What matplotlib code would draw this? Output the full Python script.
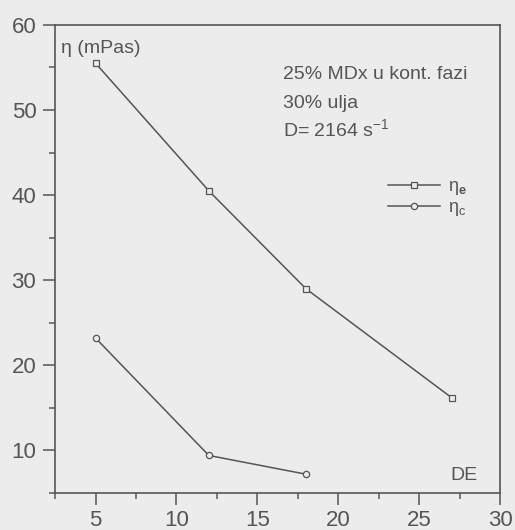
import numpy as np
import matplotlib
matplotlib.use("Agg")
import matplotlib.pyplot as plt
from matplotlib.ticker import MultipleLocator

# data
de = [5, 12, 18, 27]
eta_e = [55.5, 40.5, 29.0, 16.2]
de_c = [5, 12, 18]
eta_c = [23.2, 9.4, 7.2]

gray = "#555555"
bg = "#ececec"

plt.rcParams["font.family"] = ["Liberation Sans", "DejaVu Sans"]
plt.rcParams["mathtext.fontset"] = "custom"
plt.rcParams["mathtext.rm"] = "Liberation Sans"
plt.rcParams["mathtext.bf"] = "Liberation Sans:bold"

fig = plt.figure(figsize=(5.15, 5.3), dpi=100, facecolor=bg)
ax = fig.add_axes([0.107, 0.070, 0.864, 0.883], facecolor=bg)

ax.plot(de, eta_e, color=gray, lw=1.1, marker="s", ms=4.5, mfc=bg, mec=gray,
        mew=0.9, label=r"$\mathregular{\eta_{\mathbf{e}}}$")
ax.plot(de_c, eta_c, color=gray, lw=1.1, marker="o", ms=4.5, mfc=bg, mec=gray,
        mew=0.9, label=r"$\mathregular{\eta_c}$")

ax.set_xlim(2.5, 30)
ax.set_ylim(5, 60)
ax.xaxis.set_major_locator(MultipleLocator(5))
ax.xaxis.set_minor_locator(MultipleLocator(2.5))
ax.yaxis.set_major_locator(MultipleLocator(10))
ax.yaxis.set_minor_locator(MultipleLocator(5))
ax.set_yticks([10, 20, 30, 40, 50, 60])

for s in ax.spines.values():
    s.set_color(gray)
    s.set_linewidth(1.2)
ax.tick_params(which="both", direction="out", color=gray, labelcolor=gray,
               width=1.1, labelsize=16, top=False, right=False)
ax.tick_params(which="major", length=8.5)
ax.tick_params(which="minor", length=4.5)
ax.tick_params(axis="y", pad=5)
ax.tick_params(axis="x", pad=4)

ax.text(0.013, 0.968, "η (mPas)", transform=ax.transAxes, color=gray,
        fontsize=14, va="top", ha="left")
ax.text(0.512, 0.893, "25% MDx u kont. fazi", transform=ax.transAxes,
        color=gray, fontsize=14, va="center")
ax.text(0.512, 0.833, "30% ulja", transform=ax.transAxes,
        color=gray, fontsize=14, va="center")
ax.text(0.512, 0.776, r"D= 2164 s$^{\mathregular{-1}}$", transform=ax.transAxes,
        color=gray, fontsize=14, va="center")
ax.text(0.95, 0.02, "DE", transform=ax.transAxes, color=gray, fontsize=14,
        ha="right", va="bottom")

leg = ax.legend(loc="upper left", bbox_to_anchor=(0.748, 0.672), frameon=False,
                fontsize=13, handlelength=2.9, handletextpad=0.4,
                labelspacing=0.1, borderpad=0, borderaxespad=0,
                labelcolor=gray)

fig.savefig("out.png", dpi=100, facecolor=bg)
